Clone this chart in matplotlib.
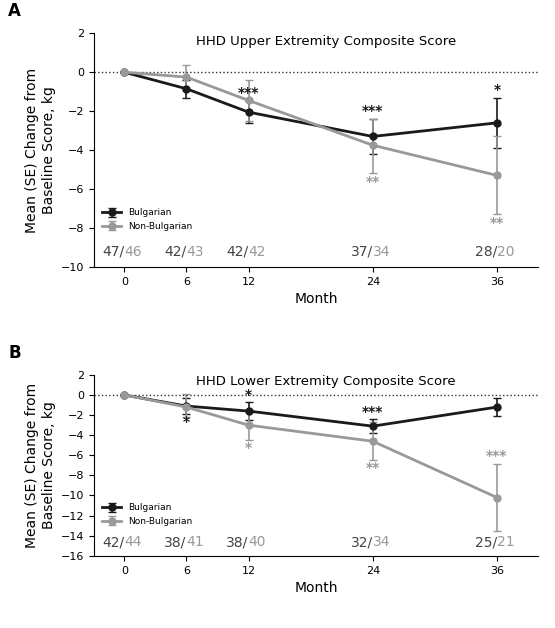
import matplotlib
matplotlib.use("Agg")
import matplotlib.pyplot as plt

months = [0, 6, 12, 24, 36]
a_bul = [0, -0.85, -2.05, -3.3, -2.6]
a_bul_lo = [0, -1.3, -2.6, -4.2, -3.9]
a_bul_hi = [0, -0.4, -1.5, -2.4, -1.3]
a_non = [0, -0.25, -1.45, -3.75, -5.3]
a_non_lo = [0, -0.9, -2.5, -5.2, -7.3]
a_non_hi = [0, 0.35, -0.4, -2.4, -3.3]
a_n_bul = [47, 42, 42, 37, 28]
a_n_non = [46, 43, 42, 34, 20]

b_bul = [0, -1.1, -1.6, -3.1, -1.2]
b_bul_lo = [0, -1.9, -2.5, -3.8, -2.1]
b_bul_hi = [0, -0.3, -0.7, -2.4, -0.3]
b_non = [0, -1.2, -3.0, -4.6, -10.2]
b_non_lo = [0, -2.2, -4.5, -6.5, -13.5]
b_non_hi = [0, 0.1, -1.5, -2.7, -6.9]
b_n_bul = [42, 38, 38, 32, 25]
b_n_non = [44, 41, 40, 34, 21]

BLK = "#1a1a1a"; GRY = "#999999"

fig = plt.figure(figsize=(5.55, 6.28), dpi=100)

def panel(rect, bul, bl, bh, non, nl, nh, nb, nn, ylim, yticks, title, stars, letter, ly):
    ax = fig.add_axes(rect)
    for y, lo, hi, c, lab in [(bul, bl, bh, BLK, "Bulgarian"), (non, nl, nh, GRY, "Non-Bulgarian")]:
        err = [[v - l for v, l in zip(y, lo)], [h - v for v, h in zip(y, hi)]]
        ax.errorbar(months, y, yerr=err, color=c, marker="o", ms=5, lw=2, capsize=3, elinewidth=1.2, label=lab)
    ax.axhline(0, color="#333333", ls=":", lw=1)
    ax.set_xlim(-2.9, 40)
    ax.set_ylim(*ylim)
    ax.set_yticks(yticks)
    ax.set_xticks(months)
    ax.spines["top"].set_visible(False); ax.spines["right"].set_visible(False)
    ax.tick_params(labelsize=8)
    ax.set_xlabel("Month", fontsize=10)
    ax.set_ylabel("Mean (SE) Change from\nBaseline Score, kg", fontsize=10)
    ax.text(19.5, ylim[1] - (ylim[1]-ylim[0])*0.035, title, ha="center", va="center", fontsize=9.5)
    ax.legend(loc="lower left", bbox_to_anchor=(0.0, 0.12), fontsize=6.5, frameon=False)
    ny = ylim[0] + (ylim[1]-ylim[0])*0.035
    for m, a, b in zip(months, nb, nn):
        ax.text(m, ny, f"{a}/", ha="right", va="bottom", fontsize=10, color="#444444")
        ax.text(m, ny, f"{b}", ha="left", va="bottom", fontsize=10, color=GRY)
    for m, yv, s, c, va in stars:
        ax.text(m, yv, s, ha="center", va=va, fontsize=10, color=c, fontweight="bold")
    fig.text(0.015, ly, letter, fontsize=12, fontweight="bold")

panel([0.17, 0.575, 0.80, 0.372], a_bul, a_bul_lo, a_bul_hi, a_non, a_non_lo, a_non_hi,
      a_n_bul, a_n_non, (-10, 2), range(-10, 3, 2), "HHD Upper Extremity Composite Score",
      [(12, -1.45, "***", BLK, "bottom"), (24, -2.35, "***", BLK, "bottom"), (24, -5.3, "**", GRY, "top"),
       (36, -1.25, "*", BLK, "bottom"), (36, -7.4, "**", GRY, "top")], "A", 0.975)
panel([0.17, 0.115, 0.80, 0.288], b_bul, b_bul_lo, b_bul_hi, b_non, b_non_lo, b_non_hi,
      b_n_bul, b_n_non, (-16, 2), range(-16, 3, 2), "HHD Lower Extremity Composite Score",
      [(6, -2.0, "*", BLK, "top"), (12, -0.65, "*", BLK, "bottom"), (12, -4.6, "*", GRY, "top"),
       (24, -2.35, "***", BLK, "bottom"), (24, -6.6, "**", GRY, "top"), (36, -6.8, "***", GRY, "bottom")], "B", 0.43)

fig.savefig("out.png", dpi=100)
